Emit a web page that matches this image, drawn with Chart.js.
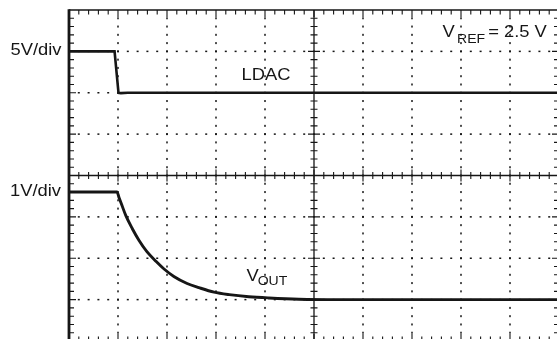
<!DOCTYPE html>
<html>
<head>
<meta charset="utf-8">
<script src="https://cdn.jsdelivr.net/npm/chart.js@4.4.0/dist/chart.umd.min.js"></script>
<style>
html,body{margin:0;padding:0;background:#fff;overflow:hidden;width:557px;height:339px}
#c{position:absolute;left:0;top:0}
</style>
</head>
<body>
<canvas id="c" width="570" height="350" style="width:570px;height:350px"></canvas>
<script>
// ---- data (time in horizontal divisions, signals in volts) ----
const ldacTime  = [0, 0.93, 1.01, 1.06, 1.20, 10];
const ldacVolts = [5, 5, 0, -0.04, 0, 0];
const voutTime  = [0, 0.98, 1.02, 1.08, 1.16, 1.29, 1.43, 1.59, 1.78, 1.94, 2.14, 2.41, 2.65, 2.96, 3.27, 3.67, 4.08, 4.69, 5.51, 10];
const voutVolts = [2.60, 2.60, 2.47, 2.28, 2.03, 1.72, 1.43, 1.16, 0.92, 0.74, 0.56, 0.39, 0.29, 0.18, 0.12, 0.07, 0.04, 0.01, 0.00, 0.00];
const ldacScaleLabel = '5V/div';
const voutScaleLabel = '1V/div';
const vrefText = ' = 2.5 V';

const ink = '#161616';
const FONT = '"Liberation Sans", Arial, Helvetica, sans-serif';

function toXY(xs, ys){ return xs.map((t,i)=>({x:t, y:ys[i]})); }

function txt(ctx, s, x, y, size, align){
  ctx.save();
  ctx.font = size + 'px ' + FONT;
  ctx.textAlign = align || 'left';
  ctx.textBaseline = 'alphabetic';
  ctx.fillStyle = ink;
  ctx.translate(x, y);
  ctx.scale(1.08, 1);
  ctx.fillText(s, 0, 0);
  ctx.restore();
}

const scopePlugin = {
  id: 'scope',
  beforeDatasetsDraw(chart){
    const {ctx, chartArea:a, scales:{x, yV}} = chart;
    ctx.save();
    ctx.fillStyle = ink;
    ctx.strokeStyle = ink;
    // dotted grid
    for (let i = 1; i < 10; i++){
      if (i === 5) continue;
      const px = x.getPixelForValue(i);
      for (let j = 1; j < 40; j++){
        const py = yV.getPixelForValue(-1 + j*0.2);
        ctx.fillRect(px-0.75, py-1, 1.5, 2);
      }
    }
    for (let j = 1; j < 8; j++){
      if (j === 4) continue;
      const py = yV.getPixelForValue(-1 + j);
      for (let i = 1; i < 50; i++){
        const px = x.getPixelForValue(i*0.2);
        ctx.fillRect(px-1, py-0.75, 2, 1.5);
      }
    }
    // centre axes with cross ticks
    const cy = yV.getPixelForValue(3), cx = x.getPixelForValue(5);
    ctx.lineWidth = 1.3;
    ctx.beginPath();
    ctx.moveTo(a.left, cy); ctx.lineTo(a.right, cy);
    ctx.moveTo(cx, a.top); ctx.lineTo(cx, a.bottom);
    ctx.stroke();
    ctx.lineWidth = 1.1;
    ctx.beginPath();
    for (let i = 1; i < 50; i++){
      const px = x.getPixelForValue(i*0.2);
      const h = (i % 5 === 0) ? 6 : 3.5;
      ctx.moveTo(px, cy-h); ctx.lineTo(px, cy+h);
    }
    for (let j = 1; j < 40; j++){
      const py = yV.getPixelForValue(-1 + j*0.2);
      const h = (j % 5 === 0) ? 6 : 3.5;
      ctx.moveTo(cx-h, py); ctx.lineTo(cx+h, py);
    }
    ctx.stroke();
    // border ticks
    ctx.beginPath();
    for (let i = 1; i < 50; i++){
      const px = x.getPixelForValue(i*0.2);
      const h = (i % 5 === 0) ? 7 : 4.5;
      ctx.moveTo(px, a.top); ctx.lineTo(px, a.top + h);
      ctx.moveTo(px, a.bottom); ctx.lineTo(px, a.bottom - h);
    }
    for (let j = 1; j < 40; j++){
      const py = yV.getPixelForValue(-1 + j*0.2);
      const h = (j % 5 === 0) ? 7 : 5;
      ctx.moveTo(a.left, py); ctx.lineTo(a.left + h, py);
      ctx.moveTo(a.right, py); ctx.lineTo(a.right - h, py);
    }
    ctx.stroke();
    ctx.restore();
  },
  afterDatasetsDraw(chart){
    const {ctx, chartArea:a, scales:{x, yL, yV}} = chart;
    ctx.save();
    ctx.strokeStyle = ink;
    ctx.lineWidth = 1.6;
    ctx.beginPath();
    ctx.moveTo(a.left, a.top); ctx.lineTo(a.right, a.top);
    ctx.moveTo(a.right, a.top); ctx.lineTo(a.right, a.bottom);
    ctx.moveTo(a.left, a.bottom); ctx.lineTo(a.right, a.bottom);
    ctx.stroke();
    ctx.lineWidth = 2.8;
    ctx.beginPath();
    ctx.moveTo(a.left, a.top - 0.8); ctx.lineTo(a.left, a.bottom);
    ctx.stroke();
    ctx.restore();

    // labels
    txt(ctx, ldacScaleLabel, a.left - 7.5, yL.getPixelForValue(ldacVolts[0]) + 4, 17, 'right');
    txt(ctx, voutScaleLabel, a.left - 8, yV.getPixelForValue(voutVolts[0]) + 4, 17, 'right');
    txt(ctx, 'LDAC', x.getPixelForValue(3.52), yL.getPixelForValue(1.54), 17, 'left');
    txt(ctx, 'V', x.getPixelForValue(3.62), yV.getPixelForValue(0.46), 17, 'left');
    txt(ctx, 'OUT', x.getPixelForValue(3.85), yV.getPixelForValue(0.35), 13, 'left');
    txt(ctx, 'V', x.getPixelForValue(7.62), yL.getPixelForValue(6.7), 17, 'left');
    txt(ctx, 'REF', x.getPixelForValue(7.92), yL.getPixelForValue(5.98), 13, 'left');
    txt(ctx, vrefText, x.getPixelForValue(8.45), yL.getPixelForValue(6.7), 17, 'left');
  }
};

new Chart(document.getElementById('c'), {
  type: 'line',
  data: {
    datasets: [
      { label: 'LDAC', data: toXY(ldacTime, ldacVolts), yAxisID: 'yL',
        borderColor: ink, borderWidth: 2.6, pointRadius: 0, tension: 0, fill: false },
      { label: 'VOUT', data: toXY(voutTime, voutVolts), yAxisID: 'yV',
        borderColor: ink, borderWidth: 2.9, pointRadius: 0, cubicInterpolationMode: 'monotone', fill: false }
    ]
  },
  options: {
    responsive: false,
    animation: false,
    devicePixelRatio: 1,
    layout: { padding: { left: 69, right: 11, top: 10, bottom: 9 } },
    plugins: { legend: { display: false }, tooltip: { enabled: false } },
    scales: {
      x:  { type: 'linear', min: 0, max: 10, display: false },
      yL: { type: 'linear', min: -30, max: 10, display: false },
      yV: { type: 'linear', min: -1, max: 7, display: false }
    }
  },
  plugins: [scopePlugin]
});
</script>
</body>
</html>
